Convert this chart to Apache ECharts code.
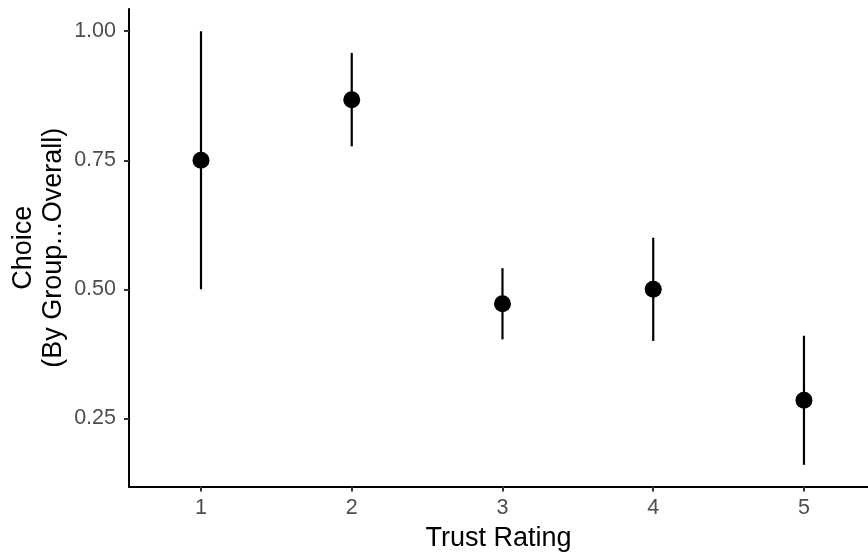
<!DOCTYPE html>
<html>
<head>
<meta charset="utf-8">
<script src="https://cdn.jsdelivr.net/npm/echarts@6/dist/echarts.min.js"></script>
<style>
html,body{margin:0;padding:0;background:#fff;}
#chart{width:868px;height:552px;}
</style>
</head>
<body>
<div id="chart"></div>
<script>
// Data
const ratings = [1, 2, 3, 4, 5];
const means = [0.75, 0.867, 0.472, 0.50, 0.285];
const lowers = [0.50, 0.777, 0.403, 0.40, 0.16];
const uppers = [1.00, 0.958, 0.541, 0.60, 0.41];
const xTicks = [1, 2, 3, 4, 5];
const yTicks = [0.25, 0.50, 0.75, 1.00];
const xTitle = 'Trust Rating';
const yTitle = 'Choice\n(By Group...Overall)';

const font = '"Liberation Sans", Arial, Helvetica, sans-serif';
const chart = echarts.init(document.getElementById('chart'), null, {renderer: 'canvas'});

const errData = ratings.map((r, i) => [r, lowers[i], uppers[i]]);
const ptData = ratings.map((r, i) => [r, means[i]]);

chart.setOption({
  animation: false,
  backgroundColor: '#ffffff',
  grid: {left: 129, right: 0, top: 9, bottom: 65.5, containLabel: false, outerBoundsMode: 'none'},
  xAxis: {
    type: 'value',
    min: 0.5224, max: 5.4248,
    name: xTitle,
    nameLocation: 'middle',
    nameGap: 39,
    nameMoveOverlap: false,
    nameTextStyle: {fontFamily: font, fontSize: 27, color: '#000'},
    axisLine: {show: true, onZero: false, lineStyle: {color: '#000', width: 2}},
    axisTick: {show: true, customValues: xTicks, length: 5, lineStyle: {color: '#333', width: 2}},
    axisLabel: {customValues: xTicks, margin: 11, fontFamily: font, fontSize: 21.5, color: '#4D4D4D'},
    splitLine: {show: false}
  },
  yAxis: {
    type: 'value',
    min: 0.118, max: 1.043,
    name: yTitle,
    nameLocation: 'middle',
    nameRotate: 90,
    nameGap: 60,
    nameMoveOverlap: false,
    nameTextStyle: {fontFamily: font, fontSize: 27, color: '#000', lineHeight: 30, align: 'center'},
    axisLine: {show: true, onZero: false, lineStyle: {color: '#000', width: 2}},
    axisTick: {show: true, customValues: yTicks, length: 5, lineStyle: {color: '#333', width: 2}},
    axisLabel: {customValues: yTicks, margin: 13, fontFamily: font, fontSize: 21.5, color: '#4D4D4D',
      formatter: v => Number(v).toFixed(2)},
    splitLine: {show: false}
  },
  series: [
    {
      type: 'custom',
      data: errData,
      encode: {x: 0, y: [1, 2]},
      renderItem: function (params, api) {
        const x = api.value(0);
        const p1 = api.coord([x, api.value(1)]);
        const p2 = api.coord([x, api.value(2)]);
        return {
          type: 'line',
          shape: {x1: p1[0], y1: p1[1], x2: p2[0], y2: p2[1]},
          style: {stroke: '#000', lineWidth: 2.2}
        };
      },
      z: 2
    },
    {
      type: 'scatter',
      data: ptData,
      symbol: 'circle',
      symbolSize: 17,
      itemStyle: {color: '#000', opacity: 1},
      emphasis: {disabled: true},
      z: 3
    }
  ]
});
</script>
</body>
</html>
